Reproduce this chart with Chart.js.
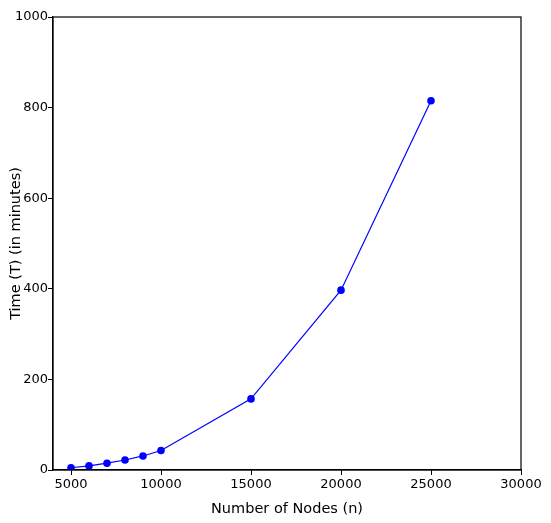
<!DOCTYPE html>
<html>
<head>
<meta charset="utf-8">
<script src="https://cdn.jsdelivr.net/npm/chart.js@4"></script>
<style>
html,body{margin:0;padding:0;background:#fff;}
#wrap{width:551px;height:523px;position:relative;}
</style>
</head>
<body>
<div id="wrap"><canvas id="c" width="551" height="523"></canvas></div>
<script>
const nodes = [5000, 6000, 7000, 8000, 9000, 10000, 15000, 20000, 25000];
const timeMinutes = [5, 9, 15, 22, 31, 43, 157, 397, 815];
const xTicks = [5000, 10000, 15000, 20000, 25000, 30000];
const yTicks = [0, 200, 400, 600, 800, 1000];

const TICK_FONT = {family: "'DejaVu Sans', sans-serif", size: 13};
const TITLE_FONT = {family: "'DejaVu Sans', sans-serif", size: 14.5};

const framePlugin = {
  id: 'frame',
  afterDraw(chart) {
    const {ctx, chartArea: a} = chart;
    ctx.save();
    ctx.strokeStyle = '#000';
    ctx.lineWidth = 1.2;
    ctx.strokeRect(a.left, a.top, a.right - a.left, a.bottom - a.top);
    ctx.restore();
  }
};

new Chart(document.getElementById('c'), {
  type: 'line',
  data: {
    datasets: [{
      data: nodes.map((n, i) => ({x: n, y: timeMinutes[i]})),
      borderColor: '#0000ff',
      backgroundColor: '#0000ff',
      borderWidth: 1.2,
      pointRadius: 3.8,
      pointBorderWidth: 0,
      pointBackgroundColor: '#0000ff',
      tension: 0,
      fill: false
    }]
  },
  plugins: [framePlugin],
  options: {
    responsive: false,
    animation: false,
    devicePixelRatio: 1,
    layout: {padding: {top: 17, right: 30, left: 0, bottom: 0}},
    plugins: {legend: {display: false}, tooltip: {enabled: false}},
    scales: {
      x: {
        type: 'linear',
        min: 4000,
        max: 30000,
        afterBuildTicks(axis) { axis.ticks = xTicks.map(v => ({value: v})); },
        afterFit(axis) { axis.height = 53; },
        ticks: {color: '#000', font: TICK_FONT, padding: 2, maxRotation: 0, autoSkip: false,
          callback: v => String(v)},
        grid: {drawOnChartArea: false, drawTicks: true, tickLength: 5, tickColor: '#000', tickWidth: 1},
        border: {display: true, color: '#000', width: 1.2},
        title: {display: true, text: 'Number of Nodes (n)', color: '#000', font: TITLE_FONT,
          padding: {top: 0, bottom: 5}}
      },
      y: {
        type: 'linear',
        min: 0,
        max: 1000,
        afterBuildTicks(axis) { axis.ticks = yTicks.map(v => ({value: v})); },
        afterFit(axis) { axis.width = 53; },
        ticks: {color: '#000', font: TICK_FONT, padding: 0, autoSkip: false,
          callback: v => String(v)},
        grid: {drawOnChartArea: false, drawTicks: true, tickLength: 5, tickColor: '#000', tickWidth: 1},
        border: {display: true, color: '#000', width: 1.2},
        title: {display: true, text: 'Time (T) (in minutes)', color: '#000', font: TITLE_FONT,
          padding: {top: 8, bottom: 0}}
      }
    }
  }
});
</script>
</body>
</html>
